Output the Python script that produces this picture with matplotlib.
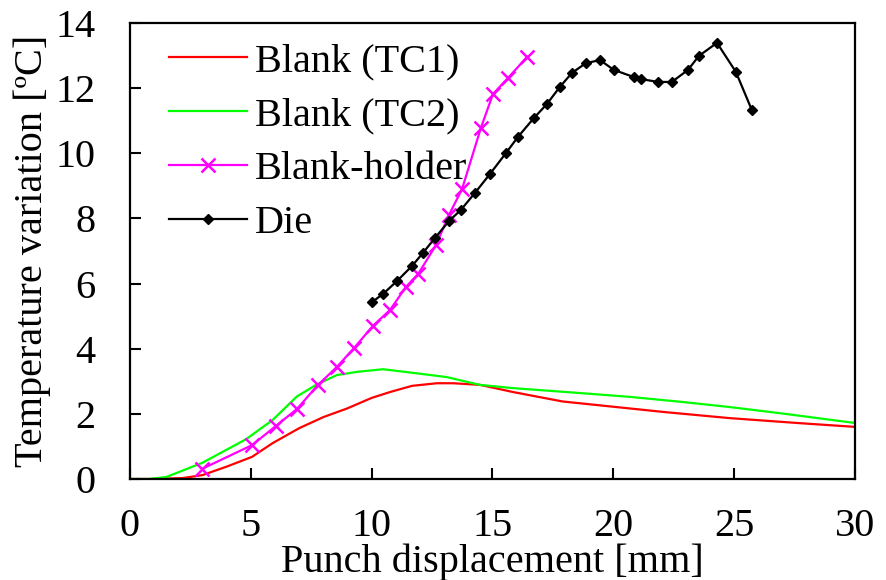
import matplotlib
matplotlib.use("Agg")
import matplotlib.pyplot as plt

plt.rcParams['font.family'] = ['Liberation Serif', 'DejaVu Serif']

# Blank thermocouple TC1 (red)
tc1_x = [0, 1.0, 2.2, 3.0, 4.0, 5.05, 5.9, 7.0, 8.0, 9.0, 10.0, 10.76, 11.67, 12.7,
         13.37, 14.48, 15.85, 17.9, 19.98, 22.05, 24.8, 27.6, 30.0]
tc1_y = [0, 0.0, 0.03, 0.12, 0.38, 0.68, 1.1, 1.56, 1.9, 2.17, 2.49, 2.67, 2.86, 2.94,
         2.94, 2.89, 2.67, 2.38, 2.22, 2.06, 1.87, 1.72, 1.6]

# Blank thermocouple TC2 (green)
tc2_x = [0, 0.8, 1.5, 3.0, 4.8, 5.9, 6.9, 7.7, 8.56, 9.4, 10.47, 11.7, 13.1, 14.48,
         15.85, 18.6, 20.7, 22.8, 24.8, 26.9, 30.0]
tc2_y = [0, 0.0, 0.06, 0.5, 1.22, 1.81, 2.53, 2.89, 3.19, 3.29, 3.37, 3.26, 3.13, 2.89,
         2.79, 2.64, 2.52, 2.37, 2.21, 2.02, 1.72]

# Blank-holder (magenta, x markers)
bh_x = [2.98, 5.05, 6.04, 6.91, 7.78, 8.56, 9.27, 10.05, 10.76, 11.42, 11.92, 12.66,
        13.20, 13.74, 14.52, 15.02, 15.64, 16.43]
bh_y = [0.31, 1.04, 1.63, 2.15, 2.89, 3.44, 4.02, 4.70, 5.19, 5.90, 6.29, 7.18,
        8.11, 8.90, 10.78, 11.82, 12.31, 12.96]

# Die (black, diamond markers)
die_x = [10.01, 10.47, 11.05, 11.67, 12.12, 12.62, 13.20, 13.69, 14.27, 14.89, 15.56,
         16.05, 16.71, 17.25, 17.79, 18.29, 18.87, 19.45, 20.02, 20.85, 21.14, 21.85,
         22.42, 23.09, 23.54, 24.29, 25.07, 25.73]
die_y = [5.43, 5.68, 6.08, 6.54, 6.94, 7.40, 7.92, 8.26, 8.78, 9.36, 10.01,
         10.50, 11.08, 11.51, 12.04, 12.47, 12.77, 12.86, 12.56, 12.34, 12.28, 12.19,
         12.19, 12.56, 12.99, 13.39, 12.50, 11.33]

fig = plt.figure(figsize=(8.87, 5.80), dpi=100)
ax = fig.add_axes([130 / 887, 101 / 580, 725 / 887, 456 / 580])

ax.plot(tc1_x, tc1_y, color='#ff0000', lw=1.6, label='Blank (TC1)')
ax.plot(tc2_x, tc2_y, color='#00ff00', lw=1.6, label='Blank (TC2)')
ax.plot(bh_x, bh_y, color='#ff00ff', lw=1.6, marker='x', ms=10, mew=1.8,
        label='Blank-holder')
ax.plot(die_x, die_y, color='black', lw=1.6, marker='D', ms=5.5,
        label='Die')

ax.set_xlim(0, 30)
ax.set_ylim(0, 14)
ax.set_xticks(range(0, 31, 5))
ax.set_yticks(range(0, 15, 2))
ax.tick_params(direction='in', length=8, width=1.5, labelsize=29)
ax.tick_params(axis='x', pad=21)
ax.tick_params(axis='y', pad=25)
for s in ax.spines.values():
    s.set_linewidth(1.6)

ax.set_xlabel('Punch displacement [mm]', fontsize=29, labelpad=-1)
ax.set_ylabel('Temperature variation [ºC]', fontsize=29, labelpad=3)

ax.legend(loc='upper left', frameon=False, fontsize=29, handlelength=1.93,
          handletextpad=0.2, labelspacing=0.42, borderaxespad=0, borderpad=0.2,
          bbox_to_anchor=(0.043, 0.974))

fig.savefig('out.png', dpi=100)
